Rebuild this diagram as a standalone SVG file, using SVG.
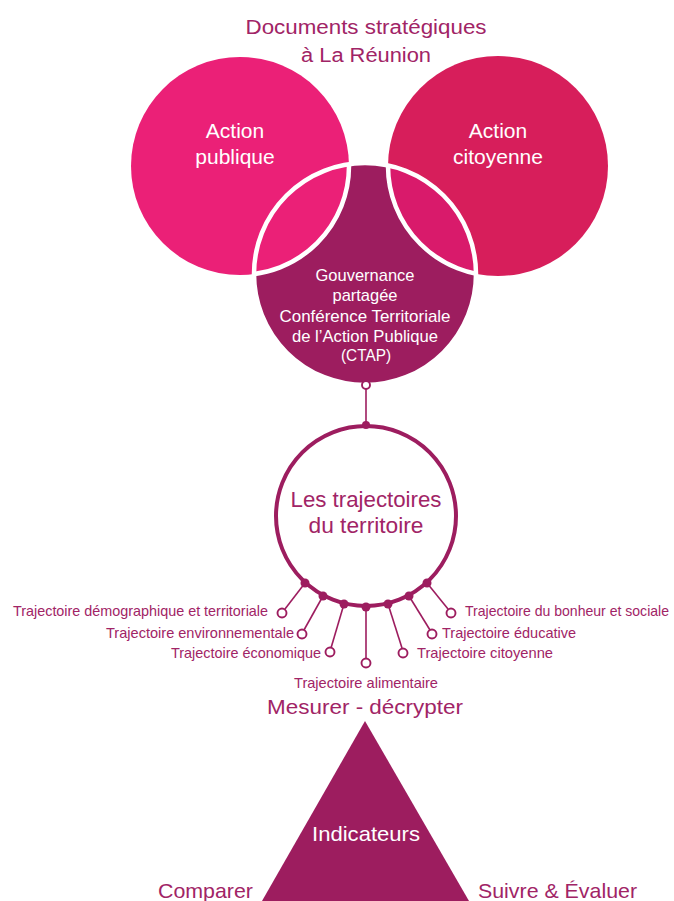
<svg xmlns="http://www.w3.org/2000/svg" width="674" height="901" viewBox="0 0 674 901">
<style>
text{font-family:"Liberation Sans",Arial,sans-serif}
.t{fill:#A12466}
.w{fill:#ffffff}
.lbl{font-size:14.5px;fill:#A12466}
.big{font-size:21px}
.ln{stroke:#9D1D5F;stroke-width:1.6;fill:none}
.end{fill:#ffffff;stroke:#9D1D5F;stroke-width:1.9}
.dot{fill:#9D1D5F}
</style>
<defs>
<clipPath id="clipB"><circle cx="365" cy="274" r="111"/></clipPath>
</defs>
<rect width="674" height="901" fill="#ffffff"/>
<g id="title">
<text class="t" x="366" y="34" font-size="20" text-anchor="middle" textLength="241" lengthAdjust="spacingAndGlyphs">Documents stratégiques</text>
<text class="t" x="366" y="62" font-size="20" text-anchor="middle" textLength="130" lengthAdjust="spacingAndGlyphs">à La Réunion</text>
</g>
<g id="action-publique">
<circle cx="240" cy="166" r="109" fill="#EB2077"/>
<text class="w big" x="235" y="138" text-anchor="middle">Action</text>
<text class="w big" x="235" y="164" text-anchor="middle">publique</text>
</g>
<g id="action-citoyenne">
<circle cx="498" cy="166" r="110" fill="#D71E5B"/>
<text class="w big" x="498" y="138" text-anchor="middle">Action</text>
<text class="w big" x="498" y="164" text-anchor="middle">citoyenne</text>
</g>
<g id="ctap">
<circle cx="365" cy="274" r="111" fill="#9D1D5F"/>
<circle cx="240" cy="166" r="109" fill="#EB2077" stroke="#ffffff" stroke-width="4.5" clip-path="url(#clipB)"/>
<circle cx="498" cy="166" r="110" fill="#D91A6B" stroke="#ffffff" stroke-width="4.5" clip-path="url(#clipB)"/>
<circle cx="365" cy="274" r="111" fill="none" stroke="#ffffff" stroke-width="4.5"/>
<g font-size="17" text-anchor="middle" class="w">
<text class="w" x="365" y="281" textLength="99" lengthAdjust="spacingAndGlyphs">Gouvernance</text>
<text class="w" x="365" y="301" textLength="65" lengthAdjust="spacingAndGlyphs">partagée</text>
<text class="w" x="365" y="322" textLength="171" lengthAdjust="spacingAndGlyphs">Conférence Territoriale</text>
<text class="w" x="365" y="342" textLength="146" lengthAdjust="spacingAndGlyphs">de l’Action Publique</text>
<text class="w" x="366" y="361" textLength="50" lengthAdjust="spacingAndGlyphs">(CTAP)</text>
</g>
</g>
<g id="connectors">
<line class="ln" x1="366" y1="389" x2="366" y2="424"/>
<line class="ln" x1="305" y1="583" x2="285" y2="609"/>
<line class="ln" x1="323" y1="596" x2="304" y2="630"/>
<line class="ln" x1="344" y1="604" x2="331" y2="648"/>
<line class="ln" x1="366" y1="607" x2="366" y2="658"/>
<line class="ln" x1="388" y1="604" x2="402" y2="648"/>
<line class="ln" x1="409" y1="596" x2="430" y2="630"/>
<line class="ln" x1="427" y1="583" x2="448" y2="609"/>
<circle class="end" cx="366" cy="385" r="4"/>
</g>
<g id="trajectoires">
<circle cx="366" cy="516" r="90" fill="#ffffff" stroke="#9D1D5F" stroke-width="4"/>
<circle class="dot" cx="366" cy="425" r="4"/>
<circle class="dot" cx="305" cy="583" r="4.5"/>
<circle class="dot" cx="323" cy="596" r="4.5"/>
<circle class="dot" cx="344" cy="604" r="4.5"/>
<circle class="dot" cx="366" cy="607" r="4.5"/>
<circle class="dot" cx="388" cy="604" r="4.5"/>
<circle class="dot" cx="409" cy="596" r="4.5"/>
<circle class="dot" cx="427" cy="583" r="4.5"/>
<text class="t" x="366" y="507" font-size="22" text-anchor="middle" textLength="151" lengthAdjust="spacingAndGlyphs">Les trajectoires</text>
<text class="t" x="366" y="533" font-size="22" text-anchor="middle" textLength="115" lengthAdjust="spacingAndGlyphs">du territoire</text>
</g>
<g id="t-demo"><circle class="end" cx="282" cy="613" r="4.5"/><text class="lbl" x="268" y="616" text-anchor="end" textLength="255" lengthAdjust="spacingAndGlyphs">Trajectoire démographique et territoriale</text></g>
<g id="t-env"><circle class="end" cx="302" cy="634" r="4.5"/><text class="lbl" x="294" y="638" text-anchor="end" textLength="188" lengthAdjust="spacingAndGlyphs">Trajectoire environnementale</text></g>
<g id="t-eco"><circle class="end" cx="330" cy="652" r="4.5"/><text class="lbl" x="321" y="658" text-anchor="end" textLength="150" lengthAdjust="spacingAndGlyphs">Trajectoire économique</text></g>
<g id="t-alim"><circle class="end" cx="366" cy="663" r="4.5"/><text class="lbl" x="366" y="688" text-anchor="middle" textLength="144" lengthAdjust="spacingAndGlyphs">Trajectoire alimentaire</text></g>
<g id="t-cit"><circle class="end" cx="403" cy="653" r="4.5"/><text class="lbl" x="417" y="658" textLength="136" lengthAdjust="spacingAndGlyphs">Trajectoire citoyenne</text></g>
<g id="t-edu"><circle class="end" cx="432" cy="634" r="4.5"/><text class="lbl" x="442" y="638" textLength="134" lengthAdjust="spacingAndGlyphs">Trajectoire éducative</text></g>
<g id="t-bonheur"><circle class="end" cx="451" cy="613" r="4.5"/><text class="lbl" x="465" y="616" textLength="204" lengthAdjust="spacingAndGlyphs">Trajectoire du bonheur et sociale</text></g>
<g id="indicateurs">
<polygon points="365,721 262,901 469,901" fill="#9D1D5F"/>
<text class="w" x="366" y="841" font-size="21" text-anchor="middle" textLength="108" lengthAdjust="spacingAndGlyphs">Indicateurs</text>
</g>
<g id="mesurer"><text class="t" x="365" y="714" font-size="21" text-anchor="middle" textLength="196" lengthAdjust="spacingAndGlyphs">Mesurer - décrypter</text></g>
<g id="comparer"><text class="t" x="158" y="898" font-size="21" textLength="95" lengthAdjust="spacingAndGlyphs">Comparer</text></g>
<g id="suivre"><text class="t" x="478" y="898" font-size="21" textLength="159" lengthAdjust="spacingAndGlyphs">Suivre &amp; Évaluer</text></g>
</svg>
